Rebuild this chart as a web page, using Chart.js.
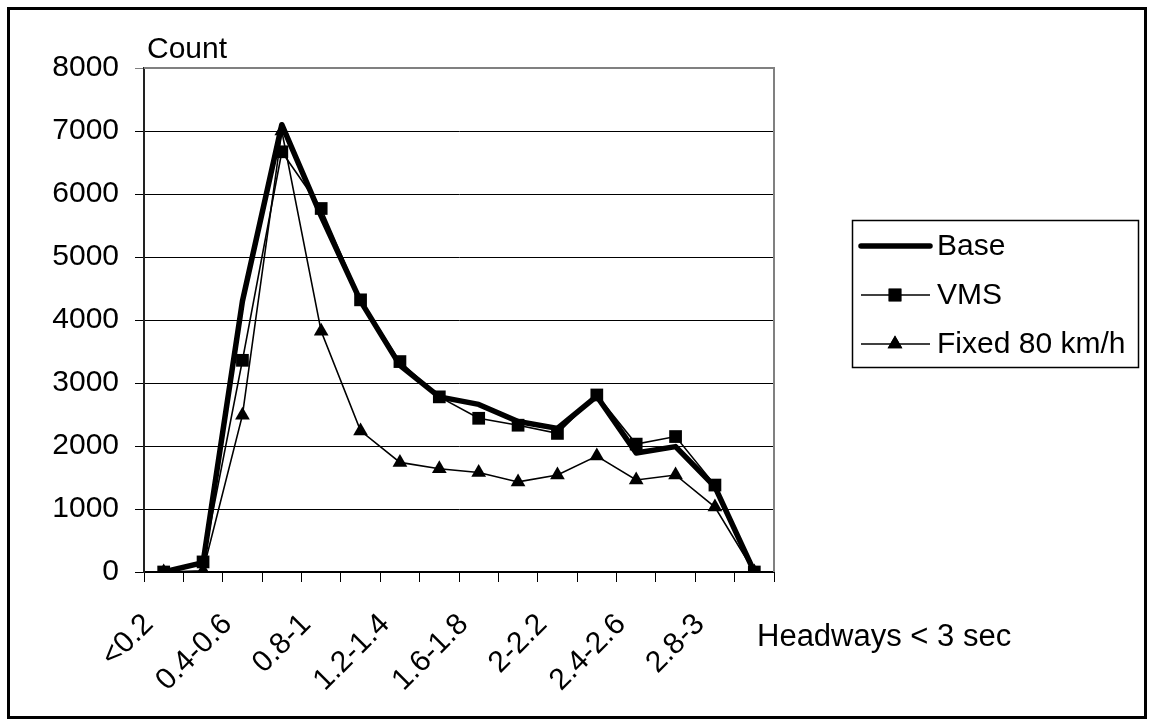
<!DOCTYPE html>
<html>
<head>
<meta charset="utf-8">
<title>Headway distribution</title>
<script src="https://cdn.jsdelivr.net/npm/chart.js@4.4.1/dist/chart.umd.min.js"></script>
<style>
  html, body { margin: 0; padding: 0; background: #fff; }
  #wrap { width: 1154px; height: 727px; position: relative; }
</style>
</head>
<body>
<div id="wrap"><canvas id="c" width="1154" height="727"></canvas></div>
<script>
// Headway classes (seconds)
const categories = ['<0.2', '0.2-0.4', '0.4-0.6', '0.6-0.8', '0.8-1', '1-1.2', '1.2-1.4', '1.4-1.6',
                    '1.6-1.8', '1.8-2', '2-2.2', '2.2-2.4', '2.4-2.6', '2.6-2.8', '2.8-3', '>3'];

// Counts per class for each scenario
const baseCounts  = [0, 150, 4300, 7100, 5650, 4300, 3280, 2780, 2660, 2390, 2280, 2790, 1890, 1990, 1350, 0];
const vmsCounts   = [0, 160, 3360, 6670, 5770, 4320, 3340, 2780, 2440, 2330, 2200, 2810, 2030, 2150, 1380, 0];
const fixedCounts = [0, 20, 2490, 7000, 3820, 2240, 1740, 1640, 1580, 1430, 1540, 1840, 1460, 1540, 1030, 0];

const seriesNames = ['Base', 'VMS', 'Fixed 80 km/h'];
const yTicks = [0, 1000, 2000, 3000, 4000, 5000, 6000, 7000, 8000];

const FONT = '"Liberation Sans", Arial, sans-serif';
const FS = 30;

// Frame, axis captions and legend box
const decor = {
  id: 'decor',
  beforeDraw(chart) {
    const { ctx } = chart;
    ctx.save();
    ctx.fillStyle = '#fff';
    ctx.fillRect(0, 0, chart.width, chart.height);
    ctx.restore();
  },
  beforeDatasetsDraw(chart) {
    const { ctx, chartArea: a } = chart;
    ctx.save();
    ctx.strokeStyle = '#808080';
    ctx.lineWidth = 2;
    ctx.beginPath();
    ctx.moveTo(a.left, a.top);
    ctx.lineTo(a.right, a.top);
    ctx.lineTo(a.right, a.bottom);
    ctx.stroke();
    ctx.restore();
  },
  afterDraw(chart) {
    const { ctx, chartArea: a } = chart;
    ctx.save();
    // outer frame
    ctx.strokeStyle = '#000';
    ctx.lineWidth = 3;
    ctx.strokeRect(8.5, 8.5, 1137, 709);

    // axis captions
    ctx.fillStyle = '#000';
    ctx.font = FS + 'px ' + FONT;
    ctx.textBaseline = 'alphabetic';
    ctx.textAlign = 'left';
    ctx.fillText('Count', a.left + 3, a.top - 10);
    ctx.font = (FS + 1) + 'px ' + FONT;
    ctx.fillText('Headways < 3 sec', 757, 646);

    // legend
    const lx = 852, ly = 220, lw = 286, lh = 147;
    ctx.strokeStyle = '#000';
    ctx.lineWidth = 1.5;
    ctx.strokeRect(lx + 0.5, ly + 0.5, lw, lh);
    const rows = [246, 295, 344];
    chart.data.datasets.forEach((ds, i) => {
      const y = rows[i];
      ctx.strokeStyle = ds.borderColor;
      ctx.lineWidth = ds.borderWidth;
      ctx.lineCap = i === 0 ? 'round' : 'butt';
      ctx.beginPath();
      ctx.moveTo(861, y);
      ctx.lineTo(930, y);
      ctx.stroke();
      if (ds.pointRadius > 0) {
        Chart.helpers.drawPoint(ctx, {
          pointStyle: ds.pointStyle, radius: ds.pointRadius, rotation: 0, borderWidth: 0
        }, 895, y);
        ctx.fill();
      }
      ctx.fillStyle = '#000';
      ctx.font = FS + 'px ' + FONT;
      ctx.textBaseline = 'middle';
      ctx.fillText(ds.label, 937, y + 1);
    });
    ctx.restore();
  }
};

new Chart(document.getElementById('c'), {
  type: 'line',
  data: {
    labels: categories,
    datasets: [
      {
        label: seriesNames[0], data: baseCounts, order: 2,
        borderColor: '#000', backgroundColor: '#000', borderWidth: 5.5,
        pointRadius: 0, pointStyle: false, tension: 0, borderJoinStyle: 'round'
      },
      {
        label: seriesNames[1], data: vmsCounts, order: 1,
        borderColor: '#000', backgroundColor: '#000', borderWidth: 1.6,
        pointStyle: 'rect', pointRadius: 9, pointBorderWidth: 0, tension: 0
      },
      {
        label: seriesNames[2], data: fixedCounts, order: 0,
        borderColor: '#000', backgroundColor: '#000', borderWidth: 1.6,
        pointStyle: 'triangle', pointRadius: 8.5, pointBorderWidth: 0, tension: 0
      }
    ]
  },
  options: {
    responsive: false,
    animation: false,
    events: [],
    layout: { padding: { left: 0, top: 68, right: 380, bottom: 0 } },
    plugins: { legend: { display: false }, tooltip: { enabled: false } },
    scales: {
      x: {
        type: 'category',
        offset: true,
        afterFit(scale) { scale.height = 155; },
        grid: {
          offset: true, drawOnChartArea: false, drawTicks: true,
          tickLength: 10, color: '#000', lineWidth: 1
        },
        border: { display: true, color: '#000', width: 2 },
        ticks: {
          autoSkip: false, minRotation: 45, maxRotation: 45,
          padding: 25, labelOffset: -15,
          color: '#000', font: { family: FONT, size: FS },
          callback(v, i) { return i % 2 === 0 ? categories[i] : ''; }
        }
      },
      y: {
        min: 0, max: 8000,
        afterFit(scale) { scale.width = 144; },
        afterBuildTicks(scale) { scale.ticks = yTicks.map(v => ({ value: v })); },
        grid: {
          color: ctx => (ctx.tick && ctx.tick.value === 8000 ? '#808080' : '#000'),
          lineWidth: 1, tickLength: 9, drawTicks: true
        },
        border: { display: true, color: '#222', width: 2 },
        ticks: {
          padding: 16, color: '#000', font: { family: FONT, size: FS },
          callback(v) { return String(v); }
        }
      }
    }
  },
  plugins: [decor]
});
</script>
</body>
</html>
